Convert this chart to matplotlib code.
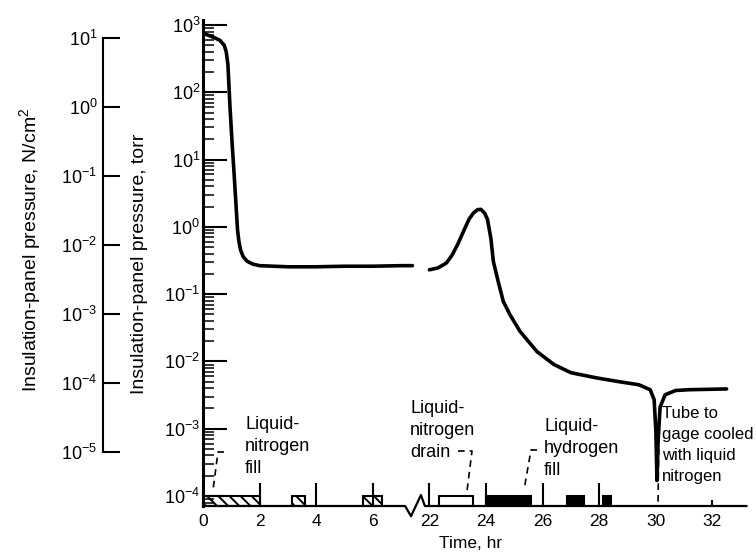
import numpy as np
import matplotlib
matplotlib.use("Agg")
import matplotlib.pyplot as plt
from matplotlib.ticker import LogLocator, NullLocator

plt.rcParams['font.family'] = ['Liberation Sans', 'DejaVu Sans']
plt.rcParams['hatch.linewidth'] = 1.4

# insulation-panel pressure, torr, against time, hr
time_1 = [0.0, 0.2, 0.4, 0.6, 0.75, 0.82, 0.88, 0.95, 1.02, 1.1, 1.17, 1.22, 1.27,
          1.33, 1.42, 1.55, 1.75, 2.0, 3.0, 4.0, 5.0, 6.0, 7.0, 7.4]
press_1 = [760, 700, 650, 590, 500, 400, 260, 65, 20, 6, 2.0, 0.9, 0.6,
           0.45, 0.36, 0.31, 0.28, 0.265, 0.255, 0.255, 0.26, 0.26, 0.265, 0.265]
time_2 = [22.0, 22.3, 22.6, 22.8, 23.0, 23.2, 23.4, 23.55, 23.7, 23.82, 23.95, 24.05, 24.17,
          24.26, 24.43, 24.61, 24.84, 25.2, 25.8, 26.4, 27.0, 27.9, 28.7, 29.4, 29.8,
          29.94, 30.0, 30.04, 30.08, 30.15, 30.33, 30.7, 31.2, 32.5]
press_2 = [0.23, 0.245, 0.29, 0.38, 0.55, 0.85, 1.3, 1.6, 1.8, 1.82, 1.6, 1.3, 0.68,
           0.305, 0.154, 0.078, 0.05, 0.028, 0.014, 0.009, 0.0068, 0.0057, 0.005, 0.0045, 0.0038,
           0.0027, 0.00095, 0.00017, 0.00065, 0.0021, 0.0032, 0.0037, 0.0038, 0.0039]

# operations along the time axis (start, end in hr)
ln2_fill_start = [0.0, 3.13, 5.66]
ln2_fill_end = [2.0, 3.6, 6.31]
ln2_drain_start = [22.35]
ln2_drain_end = [23.55]
lh2_fill_start = [24.0, 26.86, 28.12]
lh2_fill_end = [25.6, 27.46, 28.42]

time_ticks = [0, 2, 4, 6, 22, 24, 26, 28, 30, 32]
torr_ticks = [1e-4, 1e-3, 1e-2, 1e-1, 1e0, 1e1, 1e2, 1e3]
ncm_ticks = [1e-5, 1e-4, 1e-3, 1e-2, 1e-1, 1e0, 1e1]

# broken time axis: 7.4 .. 21.8 hr squeezed into a small gap
B1, B2, G = 7.4, 21.8, 0.4

def fwd(t):
    t = np.asarray(t, dtype=float)
    return np.where(t <= B1, t,
                    np.where(t >= B2, t - (B2 - B1) + G, B1 + (t - B1) * G / (B2 - B1)))

def inv(p):
    p = np.asarray(p, dtype=float)
    return np.where(p <= B1, p,
                    np.where(p >= B1 + G, p + (B2 - B1) - G, B1 + (p - B1) * (B2 - B1) / G))

fig = plt.figure(figsize=(7.56, 5.52), dpi=100)
X0, W, Y0, H = 203, 543.4, 506, 486
ax = fig.add_axes([X0 / 756, (552 - Y0) / 552, W / 756, H / 552])
ax.set_xscale('function', functions=(fwd, inv))
ax.set_yscale('log')
ybot = 10 ** (-4 - 10 / 67.3)
ax.set_xlim(0, 33.2)
ax.set_ylim(ybot, 10 ** (3 + 5 / 67.3))

def to_ax(px, py):
    return (px - X0) / W, (Y0 - py) / H

def op_bars(starts, ends, **kw):
    ax.bar(x=starts, height=1e-4 - ybot, width=np.subtract(ends, starts), bottom=ybot,
           align='edge', edgecolor='k', lw=1.5, **kw)

op_bars(ln2_fill_start, ln2_fill_end, facecolor='white', hatch='\\' * 3)
op_bars(ln2_drain_start, ln2_drain_end, facecolor='white')
op_bars(lh2_fill_start, lh2_fill_end, facecolor='k')

ax.plot(time_1, press_1, color='k', lw=2.6, solid_joinstyle='round', solid_capstyle='round')
ax.plot(time_2, press_2, color='k', lw=2.6, solid_joinstyle='round', solid_capstyle='round')

# baseline with the break symbol
tb = [0, 7.14, 7.35, float(inv(7.70)), float(inv(7.84)), 33.2]
yb = [0, 0, -0.021, 0.0226, 0, 0]
ax.plot(tb, yb, transform=ax.get_xaxis_transform(), color='k', lw=1.6, clip_on=False)

for s in ['top', 'right', 'bottom']:
    ax.spines[s].set_visible(False)
ax.spines['left'].set_linewidth(2.2)

ax.set_xticks(time_ticks)
ax.set_xticklabels([str(t) for t in time_ticks])
ax.xaxis.set_minor_locator(NullLocator())
ax.tick_params(axis='x', direction='in', length=16.5, width=1.5, pad=6, labelsize=12.5)
ax.set_yticks(torr_ticks)
ax.yaxis.set_minor_locator(LogLocator(base=10, subs=np.arange(2, 10)))
ax.tick_params(axis='y', which='major', direction='in', length=17, width=1.5, pad=2, labelsize=13)
ax.tick_params(axis='y', which='minor', direction='in', length=8, width=1.1)
xt = ax.xaxis.get_major_ticks()
xt[8].tick1line.set_visible(False)
xt[9].tick1line.set_markersize(4)

# second pressure scale, N/cm2
ax2 = fig.add_axes([103 / 756, 100 / 552, 0.05, 414 / 552])
ax2.set_yscale('log')
ax2.set_ylim(1e-5, 1e1)
ax2.set_yticks(ncm_ticks)
ax2.yaxis.set_minor_locator(NullLocator())
ax2.set_xticks([])
ax2.patch.set_visible(False)
for s in ['top', 'right', 'bottom']:
    ax2.spines[s].set_visible(False)
ax2.spines['left'].set_linewidth(1.5)
ax2.tick_params(axis='y', direction='in', length=12, width=1.5, pad=4, labelsize=13)

fig.text(140 / 756, 1 - 264 / 552, 'Insulation-panel pressure, torr', rotation=90,
         ha='center', va='center', fontsize=14)
fig.text(31 / 756, 1 - 250 / 552, r'Insulation-panel pressure, N/cm$^{\mathdefault{2}}$',
         rotation=90, ha='center', va='center', fontsize=14)
fig.text(471 / 756, 1 - 543 / 552, 'Time, hr', ha='center', va='center', fontsize=12.5)

# annotations with dashed leaders
notes = [('Liquid-\nnitrogen\nfill', 245, 416, 13, 1.38),
         ('Liquid-\nnitrogen\ndrain', 410, 400, 13, 1.38),
         ('Liquid-\nhydrogen\nfill', 544, 418, 13, 1.38),
         ('Tube to\ngage cooled\nwith liquid\nnitrogen', 662, 406, 12, 1.5)]
for txt, px, py, fs, ls in notes:
    ax.text(*to_ax(px, py), txt, transform=ax.transAxes, ha='left', va='top',
            fontsize=fs, linespacing=ls)

leaders = [[(224, 452), (218, 452), (213, 490)],
           [(458, 451), (472, 451), (467, 491)],
           [(537, 450), (531, 450), (524, 490)],
           [(659, 425), (658, 506)]]
for pts in leaders:
    xy = np.array([to_ax(px, py) for px, py in pts])
    ax.plot(xy[:, 0], xy[:, 1], transform=ax.transAxes, color='k', lw=1.2,
            ls=(0, (4, 3)), clip_on=False)

fig.savefig('out.png', dpi=100)
